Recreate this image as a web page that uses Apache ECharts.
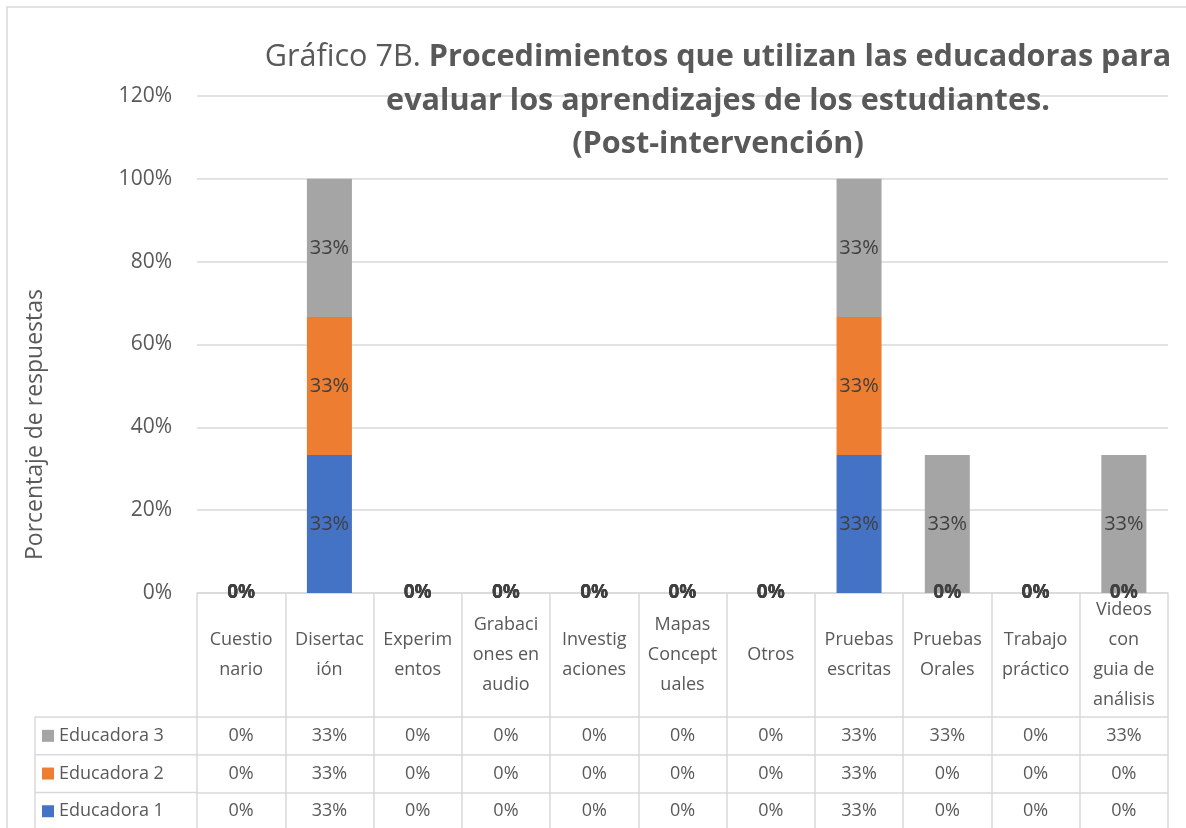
<!DOCTYPE html>
<html>
<head>
<meta charset="utf-8">
<script src="https://cdn.jsdelivr.net/npm/echarts@6/dist/echarts.min.js"></script>
<style>
  html, body { margin: 0; padding: 0; background: #ffffff; }
  #chart { width: 1186px; height: 828px; }
</style>
</head>
<body>
<div id="chart"></div>
<script>
const categories = [
  "Cuestionario", "Disertación", "Experimentos", "Grabaciones en audio",
  "Investigaciones", "Mapas Conceptuales", "Otros", "Pruebas escritas",
  "Pruebas Orales", "Trabajo práctico", "Videos con guia de análisis"
];

const tickLabels = [
  "Cuestio\nnario", "Disertac\nión", "Experim\nentos", "Grabaci\nones en\naudio",
  "Investig\naciones", "Mapas\nConcept\nuales", "Otros", "Pruebas\nescritas",
  "Pruebas\nOrales", "Trabajo\npráctico", "Videos\ncon\nguia de\nanálisis"
];

const educadora1 = [0, 33.33, 0, 0, 0, 0, 0, 33.33, 0, 0, 0];
const educadora2 = [0, 33.33, 0, 0, 0, 0, 0, 33.33, 0, 0, 0];
const educadora3 = [0, 33.33, 0, 0, 0, 0, 0, 33.33, 33.33, 0, 33.33];

const seriesNames = ["Educadora 1", "Educadora 2", "Educadora 3"];
const seriesColors = ["#4472C4", "#ED7D31", "#A5A5A5"];

const FONT = "Open Sans";
const TEXT = "#595959";
const LINE = "#d9d9d9";

// layout
const plotLeft = 197;
const plotRight = 1168;
const plotTop = 96;
const plotBottom = 593;
const headerHeight = 124;
const rowHeight = 37.7;
const legendLeft = 35;

const chart = echarts.init(document.getElementById("chart"));

const tableRows = [
  { name: "Educadora 3", values: educadora3 },
  { name: "Educadora 2", values: educadora2 },
  { name: "Educadora 1", values: educadora1 }
];

const pct = v => Math.round(v) + "%";
const tableTop = plotBottom + headerHeight;

const valueAxes = tableRows.map((row, k) => ({
  type: "category",
  data: categories,
  position: "bottom",
  offset: headerHeight + k * rowHeight,
  axisLine: { lineStyle: { color: LINE, width: 1.5 } },
  axisTick: { show: false },
  axisLabel: {
    interval: 0,
    margin: rowHeight / 2,
    verticalAlign: "middle",
    fontFamily: FONT,
    fontSize: 18,
    color: TEXT,
    formatter: (v, i) => pct(row.values[i])
  }
}));

// one legend per table row so each sits in its own cell
const legends = tableRows.map((row, k) => ({
  orient: "vertical",
  left: legendLeft + 7,
  top: tableTop + k * rowHeight,
  padding: 0,
  itemGap: 0,
  itemWidth: 12,
  itemHeight: 12,
  icon: "rect",
  selectedMode: false,
  data: [row.name],
  textStyle: { fontFamily: FONT, fontSize: 18, color: TEXT, lineHeight: rowHeight }
}));

const legendLines = [0, 1, 2].map(k => ({
  type: "line",
  shape: { x1: legendLeft, y1: tableTop + k * rowHeight, x2: plotLeft, y2: tableTop + k * rowHeight },
  style: { stroke: LINE, lineWidth: 1.5 }
}));

const option = {
  animation: false,
  textStyle: { fontFamily: FONT },
  title: {
    text: "Gráfico 7B. {b|Procedimientos que utilizan las educadoras para}\n{b|evaluar los aprendizajes de los estudiantes.}\n{b|(Post-intervención)}",
    left: 713,
    top: 31,
    textAlign: "center",
    textStyle: {
      fontFamily: FONT,
      fontSize: 30.6,
      fontWeight: "normal",
      color: TEXT,
      lineHeight: 43.5,
      rich: {
        b: { fontFamily: FONT, fontSize: 30.6, fontWeight: "bold", color: TEXT, lineHeight: 43.5 }
      }
    }
  },
  legend: legends,
  grid: {
    left: plotLeft,
    right: 1186 - plotRight,
    top: plotTop,
    bottom: 828 - plotBottom,
    containLabel: false
  },
  xAxis: [
    {
      type: "category",
      data: categories,
      position: "bottom",
      axisLine: { lineStyle: { color: LINE, width: 1.5 } },
      axisTick: { show: true, interval: 0, length: 240, lineStyle: { color: LINE, width: 1.5 } },
      axisLabel: {
        interval: 0,
        margin: headerHeight / 2,
        verticalAlign: "middle",
        lineHeight: 30,
        fontFamily: FONT,
        fontSize: 18,
        color: TEXT,
        formatter: (v, i) => tickLabels[i]
      }
    },
    ...valueAxes
  ],
  yAxis: {
    type: "value",
    min: 0,
    max: 120,
    interval: 20,
    name: "Porcentaje de respuestas",
    nameLocation: "middle",
    nameGap: 150,
    nameRotate: 90,
    nameTextStyle: { fontFamily: FONT, fontSize: 23, color: TEXT, padding: [0, 160, 0, 0] },
    axisLine: { show: false },
    axisTick: { show: false },
    axisLabel: { margin: 25, fontFamily: FONT, fontSize: 21, color: TEXT, formatter: "{value}%" },
    splitLine: { lineStyle: { color: LINE, width: 1.5 } }
  },
  graphic: [
    {
      type: "rect",
      shape: { x: 7, y: 7, width: 1300, height: 1000 },
      style: { fill: "none", stroke: LINE, lineWidth: 1.5 },
      silent: true
    },
    {
      type: "line",
      shape: { x1: legendLeft, y1: tableTop, x2: legendLeft, y2: 840 },
      style: { stroke: LINE, lineWidth: 1.5 }
    },
    ...legendLines
  ],
  series: seriesNames.map((name, k) => ({
    name,
    type: "bar",
    stack: "total",
    barWidth: "51%",
    xAxisIndex: 0,
    yAxisIndex: 0,
    itemStyle: { color: seriesColors[k] },
    data: [educadora1, educadora2, educadora3][k],
    label: {
      show: true,
      position: "inside",
      fontFamily: FONT,
      fontSize: 20,
      color: "#404040",
      formatter: p => (p.value === 0 ? "{z|0%}" : pct(p.value)),
      rich: { z: { fontFamily: FONT, fontSize: 19, fontWeight: "bold", color: "#404040" } }
    }
  }))
};

chart.setOption(option);
</script>
</body>
</html>
